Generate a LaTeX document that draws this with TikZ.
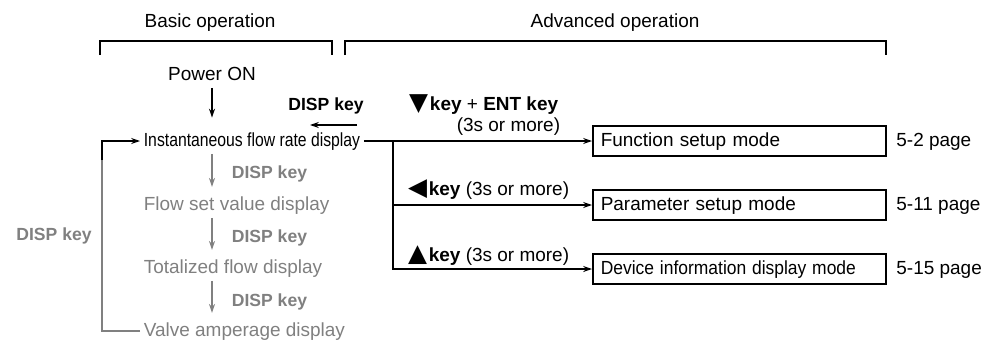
\documentclass[tikz,border=0pt]{standalone}
\usepackage{graphicx}
\usepackage{fontspec}
\setmainfont{Liberation Sans}
\newfontfamily\symfont{DejaVu Sans}
\usepackage{xcolor}
\usetikzlibrary{arrows.meta, positioning}
\definecolor{dispgray}{HTML}{808080}
\newcommand{\keytri}[1]{{\symfont\raisebox{-0.3pt}{\scalebox{1.3}{#1}}}\kern1pt}

\begin{document}
\begin{tikzpicture}[x=0.02cm, y=-0.02cm, >={Stealth[length=5pt, width=3.4pt]},
    font=\fontsize{10.8}{13}\selectfont,
    every node/.style={inner sep=2pt},
    lbl/.style={text height=8pt, text depth=2.3pt},
    bracket/.style={line width=0.75pt},
    flow/.style={->, line width=0.85pt},
    grayflow/.style={->, line width=0.6pt, dispgray, shorten >=3pt},
    modebox/.style={draw, line width=1pt, lbl, minimum height=17.5pt, inner xsep=4.5pt, text width=5.54cm, align=left}]
    \useasboundingbox (0,0) rectangle (998,345);

    % headings and brackets
    \node[lbl] (basic) at (210,22) {Basic operation};
    \node[lbl] (adv) at (615,22) {Advanced operation};
    \draw[bracket] (100,55) |- (332,41) -- (332,55);
    \draw[bracket] (345,55) |- (886,41) -- (886,55);

    % basic operation
    \node[lbl] (power) at (212,75) {Power ON};
    \node[lbl, anchor=west] (inst) at (140,141) {\scalebox{0.83}[1]{Instantaneous flow rate display}};
    \node[lbl, anchor=west, dispgray] (flowset) at (140,205) {Flow set value display};
    \node[lbl, anchor=west, dispgray] (total) at (140,268) {Totalized flow display};
    \node[lbl, anchor=west, dispgray] (valve) at (140,331) {Valve amperage display};

    \node[lbl, anchor=west, dispgray, font=\bfseries] (disp1) at (228,173) {DISP key};
    \node[lbl, anchor=west, dispgray, font=\bfseries] (disp2) at (228,237) {DISP key};
    \node[lbl, anchor=west, dispgray, font=\bfseries] (disp3) at (228,301) {DISP key};
    \node[lbl, dispgray, font=\bfseries] (displeft) at (54,235) {DISP key};

    \draw[flow, shorten >=6pt] (power) -- (power |- inst.north);
    \draw[grayflow] (inst.south -| power) -- (flowset.north -| power);
    \draw[grayflow] (flowset.south -| power) -- (total.north -| power);
    \draw[grayflow] (total.south -| power) -- (valve.north -| power);

    \coordinate (bend) at (102,160);
    \draw[line width=0.85pt, dispgray] (valve.west) -| (bend);
    \draw[flow] (bend) |- (inst.west);

    % back to basic operation
    \node[lbl, font=\bfseries] (disptop) at (326,105) {DISP key};
    \coordinate (backa) at (357,125);
    \coordinate (backb) at (310,125);
    \draw[flow] (backa) -- (backb);

    % advanced operation
    \node[modebox, anchor=west] (func) at (592,141) {Function setup mode};
    \node[modebox, anchor=west] (param) at (592,205) {Parameter setup mode};
    \node[modebox, anchor=west] (device) at (592,269) {\scalebox{0.92}[1]{Device information display mode}};

    \node[lbl, right=0.12cm of func] (page1) {5-2 page};
    \node[lbl, right=0.12cm of param] (page2) {5-11 page};
    \node[lbl, right=0.12cm of device] (page3) {5-15 page};

    \coordinate (br) at (393,141);
    \draw[flow] (inst.east) -- (func.west);
    \draw[flow] (br) |- (param.west);
    \draw[flow] (br) |- (device.west);

    \node[lbl, anchor=east] (funckey) at (562,105) {\keytri{▼}\textbf{key} + \textbf{ENT key}};
    \node[lbl, anchor=east] (functime) at (564,126) {(3s or more)};
    \node[lbl, anchor=east] (paramkey) at (573,190) {\keytri{◀}\textbf{key} (3s or more)};
    \node[lbl, anchor=east] (devkey) at (573,256) {\keytri{▲}\textbf{key} (3s or more)};
\end{tikzpicture}
\end{document}
